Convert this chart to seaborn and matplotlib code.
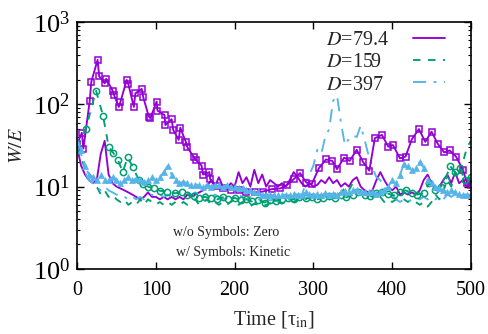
import numpy as np
import pandas as pd
import seaborn as sns
import matplotlib.pyplot as plt

# ---------------------------------------------------------------------
# data (W/E vs time in tau_in)
# ---------------------------------------------------------------------
t_grid = np.arange(0, 505, 5)

# D=79.4, zero initial condition (no symbols)
w_794_zero = [30, 18, 14, 12, 11, 12, 25, 36, 14, 11,
              10, 9.5, 9, 8.5, 8, 7.5, 7, 7.5, 8.5, 7.5,
              7.5, 7, 7.5, 7, 7.5, 7, 7.5, 7, 8, 7.5,
              8, 8.5, 9, 10, 12, 10, 13, 10, 9, 11,
              10, 15, 11, 13, 10, 16, 11, 14, 10, 12,
              11, 10, 11, 10, 12, 15, 13, 11, 10, 11,
              10, 10.5, 12, 11, 13, 11, 12, 10, 11, 10,
              12, 13, 10, 9, 8.5, 9, 12, 15, 12, 10,
              9, 10, 8, 8.5, 8, 8.5, 8, 9, 12, 14,
              11, 9, 10, 12, 14, 11, 15, 11, 12, 10,
              11]

# D=159, zero
w_159_zero = [30, 22, 17, 15, 12, 10, 8, 9, 7.5, 8,
              7, 6.5, 7, 6, 6.5, 6, 7, 6, 7, 6.5,
              6, 6.5, 6, 6.5, 6, 6.5, 6, 6.5, 6, 6.5,
              7, 6, 6.5, 7, 6, 6.5, 6, 6.5, 6, 6.5,
              7, 6, 6.5, 6, 5.8, 6.2, 6, 5.7, 6, 6.3,
              6, 6.5, 6.2, 6.5, 6.8, 6.5, 7, 6.8, 7, 7.5,
              7, 7.5, 8, 7.5, 8, 7.5, 9, 8, 10, 9,
              11, 9, 8, 7.5, 8, 7.5, 7, 7.5, 6.5, 7,
              6.5, 7, 7.5, 7, 6.5, 7, 6.5, 6, 6.5, 5.7,
              6.5, 8, 7, 9, 12, 10, 15, 13, 20, 30,
              36]

# D=397, zero
w_397_zero = [33, 25, 15, 12, 11, 10, 9, 10, 9, 8.5,
              8, 7.5, 7.5, 7, 7.5, 7, 7.5, 7, 7.5, 8,
              7.5, 8, 7.5, 8, 7.5, 8, 8.5, 8, 8.5, 8,
              8.5, 8, 8.5, 8, 7.5, 8, 7.5, 7, 7.5, 7,
              7.5, 8, 7.5, 7, 7.5, 7, 7, 6.8, 7, 6.8,
              7, 6.8, 7, 6.8, 7, 7.2, 7, 7.5, 11, 14,
              18, 28, 25, 40, 50, 110, 128, 60, 32, 38,
              42, 40, 55, 37, 24, 17, 13, 12, 10, 9,
              8, 7, 6.5, 7, 6.5, 7, 7.5, 7, 7.5, 7,
              7.5, 7, 7.5, 7, 8, 7.5, 8, 7.5, 8, 8,
              8]

# D=397, kinetic (triangles)
w_397_kin = [35, 28, 18, 14, 13, 12, 14, 12, 12, 13,
             12, 11, 12, 13, 12, 12.5, 12, 11.5, 12, 13,
             12, 13, 15, 18, 14, 12, 11, 11.5, 11, 10.5,
             10.5, 10.5, 10, 10.5, 10, 10.5, 10.5, 10, 10.5, 10,
             10, 9.5, 9.5, 9, 9, 8.5, 8.5, 8, 8, 8,
             7.8, 8, 7.8, 8, 8, 8.2, 8, 8, 8.5, 8.2,
             8, 8.2, 8, 8.3, 8, 8.2, 8, 8.5, 8.8, 8.5,
             9, 9, 8.5, 8.7, 8.5, 8.5, 8.2, 8.5, 9, 10,
             12, 11, 14, 19, 18, 16, 17, 20, 17, 12,
             11, 10, 9.5, 9, 8.5, 9, 8.5, 8.2, 8, 8,
             8]

# D=79.4, kinetic (squares)
t_794_kin = [0, 6, 8, 16, 18, 26, 28, 35, 37, 45,
             47, 53, 55, 63, 65, 72, 74, 82, 84, 91,
             93, 101, 102, 111, 112, 120, 122, 129, 131, 138,
             140, 148, 151, 158, 160, 168, 169, 177, 185, 195,
             205, 215, 226, 236, 247, 258, 266, 275, 283, 291,
             298, 307, 316, 324, 330, 339, 346, 355, 363, 371,
             378, 387, 395, 401, 410, 417, 425, 434, 442, 450,
             458, 466, 473, 481, 490, 495, 500]
w_794_kin = [33, 45, 29, 110, 187, 347, 220, 180, 204, 147,
             129, 93, 107, 198, 177, 93, 136, 154, 122, 71,
             68, 108, 84, 74, 56, 66, 49, 37, 52, 35,
             30, 23, 21, 18, 14, 15, 12.3, 10.2, 9.6, 9.2,
             9.0, 8.7, 8.5, 8.7, 9.3, 9.5, 10.4, 12.3, 14.6, 11.2,
             10.8, 16.7, 21.4, 20.5, 16.3, 22.5, 20.5, 28, 20, 15.6,
             38.7, 42.5, 30.6, 32, 22, 23.2, 37.6, 50, 35, 46.5,
             33, 26, 27.5, 23.2, 16, 11, 10.5]

# D=159, kinetic (circles)
t_159_kin = [0, 11, 24, 33, 40, 46, 52, 58, 64, 71,
             78, 84, 90, 97, 105, 114, 124, 133, 140, 148,
             155, 162, 170, 178, 185, 192, 200, 208, 215, 222,
             230, 238, 245, 252, 260, 268, 275, 282, 290, 298,
             305, 312, 320, 328, 335, 342, 350, 357, 365, 372,
             380, 387, 395, 402, 410, 417, 425, 432, 440, 447,
             455, 462, 468, 473, 480, 486, 492, 500]
w_159_kin = [30, 50, 147, 72, 30.7, 25.6, 20.8, 15, 22.7, 17.2,
             12.1, 10.8, 10, 9.5, 8.9, 8.7, 8.3, 8.5, 8, 7.6,
             7.3, 7.5, 7.2, 7, 7.4, 7.1, 7.3, 6.8, 7.0, 6.6,
             6.9, 6.4, 6.8, 6.7, 7.0, 7.3, 7.0, 7.5, 7.2, 7.4,
             7.0, 7.3, 7.6, 7.2, 7.8, 7.4, 8.0, 8.5, 8.0, 7.6,
             8.3, 8.6, 8.2, 7.8, 8.5, 9.0, 8.4, 8.0, 8.3, 11,
             9, 10, 12, 18, 15, 17, 12, 13]

labels = [r"$D$=79.4", r"$D$=159", r"$D$=397"]
colors = ["#9400D3", "#009E73", "#56B4E9"]

# ---------------------------------------------------------------------
# style (gnuplot-like, Times-ish)
# ---------------------------------------------------------------------
sns.set_theme(style="ticks")
plt.rcParams['font.family'] = ['Liberation Serif', 'DejaVu Serif']
plt.rcParams['mathtext.fontset'] = 'stix'
plt.rcParams['axes.linewidth'] = 1.2

fig = plt.figure(figsize=(4.88, 3.34), dpi=100)
ax = fig.add_axes([0.158, 0.195, 0.807, 0.739])

LW = 1.35
dash_159 = (0, (4, 4))
dash_397 = (0, (7, 4, 1.5, 4))

# zero runs (lines only, these carry the legend)
sns.lineplot(x=t_grid, y=w_794_zero, ax=ax, color=colors[0], lw=LW,
             estimator=None, sort=False, label=labels[0])
sns.lineplot(x=t_grid, y=w_159_zero, ax=ax, color=colors[1], lw=LW,
             linestyle=dash_159, estimator=None, sort=False, label=labels[1])
sns.lineplot(x=t_grid, y=w_397_zero, ax=ax, color=colors[2], lw=LW,
             linestyle=dash_397, estimator=None, sort=False, label=labels[2])

# kinetic runs (with symbols)
sns.lineplot(x=t_794_kin, y=w_794_kin, ax=ax, color=colors[0], lw=LW,
             marker='s', markersize=5, markerfacecolor='none',
             markeredgecolor=colors[0], markeredgewidth=1.1,
             estimator=None, sort=False)
sns.lineplot(x=t_159_kin, y=w_159_kin, ax=ax, color=colors[1], lw=LW,
             linestyle=dash_159, marker='o', markersize=4.5,
             markerfacecolor='none', markeredgecolor=colors[1],
             markeredgewidth=1.1, estimator=None, sort=False)
sns.lineplot(x=t_grid, y=w_397_kin, ax=ax, color=colors[2], lw=LW,
             linestyle=dash_397, marker='^', markersize=4.5,
             markeredgecolor=colors[2], markeredgewidth=0.5,
             estimator=None, sort=False)

ax.set_yscale('log')
ax.set_xlim(0, 500)
ax.set_ylim(1, 1000)
ax.set_xticks([0, 100, 200, 300, 400, 500])

ax.tick_params(which='both', direction='in', top=True, right=True,
               colors='black')
ax.tick_params(axis='x', labelsize=14.5, pad=9)
ax.tick_params(axis='y', labelsize=19, pad=5)
ax.tick_params(which='major', length=5, width=1)
ax.tick_params(which='minor', length=2.5, width=0.8)

ax.set_xlabel(r"Time [τ$_{\rm in}$]", fontsize=14.5, labelpad=6)
ax.set_ylabel(r"$W/E$", fontsize=14.5, labelpad=4)

ax.text(189, 2.8, "w/o Symbols: Zero", fontsize=10, ha='center', va='center')
ax.text(198, 1.6, "w/ Symbols: Kinetic", fontsize=10, ha='center', va='center')

leg = ax.legend(loc='upper right', bbox_to_anchor=(0.97, 1.02), frameon=False,
                markerfirst=False, fontsize=14.5, handlelength=1.6,
                labelspacing=0.15, handletextpad=1.2, borderpad=0.2)

# gnuplot keys are left-justified: blank the right-packed legend labels
# (rows keep their height) and redraw them from the x of the widest one
fig.canvas.draw()
W_px, H_px = fig.bbox.width, fig.bbox.height
extents = [t.get_window_extent() for t in leg.get_texts()]
x_left = min(e.x0 for e in extents)
for txt, ext in zip(leg.get_texts(), extents):
    fig.text(x_left / W_px, (ext.y0 + ext.y1) / 2 / H_px, txt.get_text(),
             fontsize=14.5, ha='left', va='center')
    txt.set_text('')

for s in ax.spines.values():
    s.set_color('black')

fig.savefig('out.png', dpi=100)
